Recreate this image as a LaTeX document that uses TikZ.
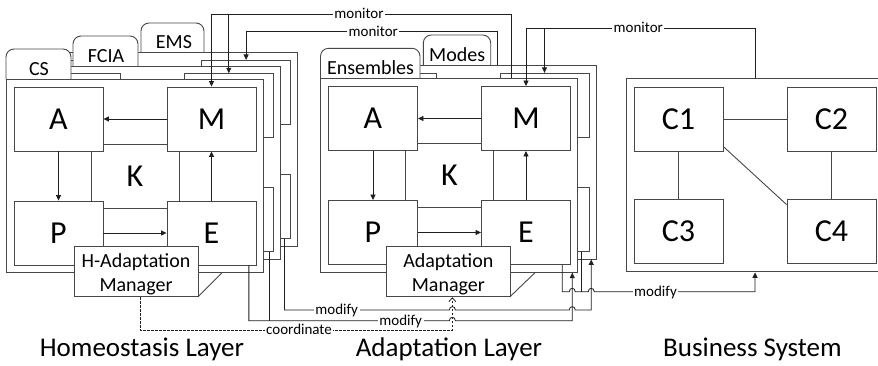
\documentclass[tikz,border=0pt]{standalone}
\usepackage{fontspec}
\setmainfont{Carlito}
\usetikzlibrary{arrows.meta,calc}

\tikzset{
  boxln/.style={draw=black!72, line width=0.9pt},
  layerframe/.style={boxln, fill=white, minimum width=257.3pt, minimum height=193.4pt, inner sep=0pt},
  mapebox/.style={boxln, fill=white, minimum width=89pt, minimum height=64pt, inner sep=0pt, font=\fontsize{32}{32}\selectfont},
  kbox/.style={boxln, fill=white, minimum width=88pt, minimum height=64pt, inner sep=0pt, font=\fontsize{32}{32}\selectfont},
  tabshape/.style={boxln, fill=white, rounded corners=8pt},
  tabtxt/.style={anchor=base, inner sep=0pt, font=\fontsize{20}{24}\selectfont},
  mgr/.style={boxln, fill=white, inner sep=0pt},
  mgrtxt/.style={align=center, inner sep=0pt, font=\fontsize{20}{24}\selectfont},
  conn/.style={draw=black!88, line width=0.8pt},
  arr/.style={conn, -{Triangle[length=5.5pt,width=5pt]}},
  lbl/.style={fill=white, inner xsep=1.5pt, inner ysep=1pt, anchor=base, font=\fontsize{15}{18}\selectfont},
  title/.style={anchor=base, inner sep=0pt, font=\fontsize{27}{32}\selectfont},
  hopover/.style={insert path={-- ($(#1)+(-3,0)$) .. controls ($(#1)+(-3,-4.5)$) and ($(#1)+(3,-4.5)$) .. ($(#1)+(3,0)$)}},
}

% one MAPE-K layer: frame, knowledge, four activity boxes and their arrows;
% #2 = 1 prints the letters (front layer), 0 leaves the boxes blank (layers behind)
\newcommand\mapelayer[2]{%
  \node[layerframe] (#1-frame) at (134.65,176) {};
  \node[kbox] (#1-K) at (135,176) {\ifnum#2=1 K\fi};
  \node[mapebox] (#1-A) at (58.5,119) {\ifnum#2=1 A\fi};
  \node[mapebox] (#1-M) at (211.5,119) {\ifnum#2=1 M\fi};
  \node[mapebox] (#1-P) at (58.5,233) {\ifnum#2=1 P\fi};
  \node[mapebox] (#1-E) at (211.5,233) {\ifnum#2=1 E\fi};
  \draw[arr] (#1-M) -- (#1-A);
  \draw[arr] (#1-A) -- (#1-P);
  \draw[arr] (#1-P) -- (#1-E);
  \draw[arr] (#1-E) -- (#1-M);
}

\begin{document}
\begin{tikzpicture}[x=1pt,y=-1pt]
\useasboundingbox (0,0) rectangle (878,365);
\fill[white] (0,0) rectangle (878,365);
\clip (0,0) rectangle (878,365);

% ---------------- homeostasis layer stack ----------------
\draw[tabshape] (141,52.7) -- (141,23) -- (204,23) -- (204,52.7);
\node[tabtxt] (ems-tab) at (174,48.5) {EMS};
\begin{scope}[shift={(34.6,-26.6)}] \mapelayer{ems}{0} \end{scope}

\draw[tabshape] (73,66) -- (73,36) -- (138,36) -- (138,66);
\node[tabtxt] (fcia-tab) at (106,62) {FCIA};
\begin{scope}[shift={(17.3,-13.3)}] \mapelayer{fcia}{0} \end{scope}

\draw[tabshape] (6,79.3) -- (6,49) -- (71,49) -- (71,79.3);
\node[tabtxt] (cs-tab) at (39,75.3) {CS};
\mapelayer{cs}{1}

\draw[boxln] (198,296.7) -- ++(23.7,-23.7);
\node[mgr, minimum width=124pt, minimum height=50.7pt] (hmgr) at (136,271.35) {};
\node[mgrtxt] (hmgr-txt) at ([yshift=-2.5pt]hmgr.center) {H-Adaptation\\Manager};

% ---------------- adaptation layer stack ----------------
\draw[tabshape] (423.3,65.6) -- (423.3,35) -- (490.7,35) -- (490.7,65.6);
\node[tabtxt] (modes-tab) at (457.2,61.5) {Modes};
\begin{scope}[shift={(333,-13.7)}] \mapelayer{modes}{0} \end{scope}

\draw[tabshape] (320.5,78.8) -- (320.5,48.3) -- (420,48.3) -- (420,78.8);
\node[tabtxt] (ens-tab) at (370.5,74.3) {Ensembles};
\begin{scope}[shift={(314.5,-0.5)}] \mapelayer{ens}{1} \end{scope}

\draw[boxln] (510,296.7) -- ++(25,-24);
\node[mgr, minimum width=123.3pt, minimum height=50pt] (amgr) at (448.35,271.7) {};
\node[mgrtxt] (amgr-txt) at ([yshift=-2.5pt]amgr.center) {Adaptation\\Manager};

% ---------------- business system ----------------
\node[layerframe] (bus) at (755.15,175.2) {};
\node[mapebox] (C1) at (678.5,119.2) {C1};
\node[mapebox] (C2) at (831.5,119.2) {C2};
\node[mapebox] (C3) at (678.5,231) {C3};
\node[mapebox] (C4) at (831.5,231) {C4};
\draw[boxln] (C1) -- (C2);
\draw[boxln] (C1) -- (C3);
\draw[boxln] (C2) -- (C4);
\draw[boxln] ([yshift=5pt]C1.south east) -- ([yshift=-6pt]C4.north west);

% ---------------- connector levels and end points ----------------
\coordinate (yMonA) at (0,14);
\coordinate (yMonB) at (0,31.7);
\coordinate (yMonC) at (0,28);
\coordinate (yModA) at (0,291.7);
\coordinate (yModE) at (0,310);
\coordinate (yModH) at (0,320.7);
\coordinate (yCoord) at (0,330);

\coordinate (monA-src) at ([xshift=191.2pt]ens-frame.north west);
\coordinate (monB-src) at ([xshift=158.7pt]modes-frame.north west);
\coordinate (monC-src) at ([xshift=129pt]bus.north west);

\coordinate (csE-out) at ([xshift=82.3pt]cs-E.south west);
\coordinate (fciaE-out) at ([xshift=85.7pt]fcia-E.south west);
\coordinate (emsE-out) at ([xshift=83.4pt]ems-E.south west);
\coordinate (ens-in) at ([xshift=252.2pt]ens-frame.south west);
\coordinate (modes-in) at ([xshift=252.7pt]modes-frame.south west);
\coordinate (ensE-out) at ([xshift=81.2pt]ens-E.south west);
\coordinate (modesE-out) at ([xshift=81.7pt]modes-E.south west);
\coordinate (bus-in) at ([xshift=129pt]bus.south west);
\coordinate (hmgr-out) at ([xshift=4pt]hmgr.south);
\coordinate (amgr-in) at ([xshift=4pt]amgr.south);

\coordinate (xH1) at (amgr-in |- yModH);
\coordinate (xE1) at (amgr-in |- yModE);
\coordinate (xE2) at (ens-in |- yModE);
\coordinate (xA1) at (ens-in |- yModA);
\coordinate (xA2) at (modes-in |- yModA);

% ---------------- monitor connectors ----------------
\draw[arr] (monA-src) |- (yMonA -| cs-M.north) -- (cs-M.north);
\draw[arr] (yMonA -| fcia-M.north) -- (fcia-M.north);
\draw[arr] (monB-src) |- (yMonB -| ems-M.north) -- (ems-M.north);
\draw[arr] (monC-src) |- (yMonC -| ens-M.north) -- (ens-M.north);
\draw[arr] (yMonC -| modes-M.north) -- (modes-M.north);

% ---------------- coordinate connector ----------------
\draw[conn, dash pattern=on 2.5pt off 1.5pt, -{Straight Barb[length=4pt,width=7pt]}]
  (hmgr-out) -- (hmgr-out |- yCoord) -- (amgr-in |- yCoord) -- (amgr-in);

% ---------------- modify connectors ----------------
\draw[conn] (fciaE-out) -- (fciaE-out |- yModH);
\draw[arr] (csE-out) -- (csE-out |- yModH) [hopover=xH1] -- (ens-in |- yModH) -- (ens-in);
\draw[arr] (emsE-out) -- (emsE-out |- yModE) [hopover=xE1] [hopover=xE2] -- (modes-in |- yModE) -- (modes-in);
\draw[conn] (modesE-out) -- (modesE-out |- yModA);
\draw[arr] (ensE-out) -- (ensE-out |- yModA) [hopover=xA1] [hopover=xA2] -- (bus-in |- yModA) -- (bus-in);

% ---------------- connector labels ----------------
\node[lbl] (lbl-monA) at (359,18.5) {monitor};
\node[lbl] (lbl-monB) at (373.3,36.2) {monitor};
\node[lbl] (lbl-monC) at (638.3,32.5) {monitor};
\node[lbl] (lbl-modE) at (336.7,314.5) {modify};
\node[lbl] (lbl-modH) at (400.7,325.2) {modify};
\node[lbl] (lbl-coord) at (299,334.5) {coordinate};
\node[lbl] (lbl-modA) at (655.5,296.2) {modify};

% ---------------- titles ----------------
\node[title] (t-home) at (142,356.7) {Homeostasis Layer};
\node[title] (t-adapt) at (449,356.7) {Adaptation Layer};
\node[title] (t-bus) at (752.5,356.7) {Business System};
\end{tikzpicture}
\end{document}
